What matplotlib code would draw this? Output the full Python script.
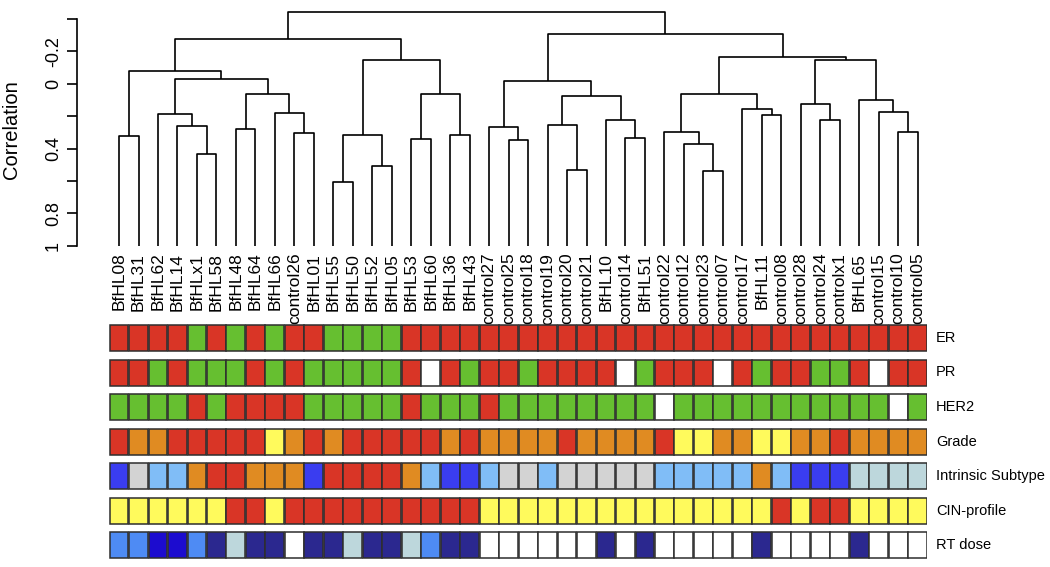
import matplotlib
matplotlib.use("Agg")
import matplotlib.pyplot as plt
from matplotlib.patches import Rectangle

plt.rcParams['font.family'] = ['Liberation Sans', 'DejaVu Sans']

# leaf order of the dendrogram
leaves = ['BfHL08', 'BfHL31', 'BfHL62', 'BfHL14', 'BfHLx1', 'BfHL58', 'BfHL48',
          'BfHL64', 'BfHL66', 'control26', 'BfHL01', 'BfHL55', 'BfHL50', 'BfHL52',
          'BfHL05', 'BfHL53', 'BfHL60', 'BfHL36', 'BfHL43', 'control27', 'control25',
          'control18', 'control19', 'control20', 'control21', 'BfHL10', 'control14',
          'BfHL51', 'control22', 'control12', 'control23', 'control07', 'control17',
          'BfHL11', 'control08', 'control28', 'control24', 'controlx1', 'BfHL65',
          'control15', 'control10', 'control05']

# hclust style merges: negative = leaf (1-based), positive = earlier merge
merge_a = [-1, -5, -4, -3, -7, -10, -9, 5, 4, 1, -12, -14, 11, -16, -18, 14, 13, 10,
           -21, -20, -24, -23, -27, -26, 22, 20, -31, -30, -29, -34, -33, 29,
           -37, -36, -41, -40, -39, 34, 32, 26, 18]
merge_b = [-2, -6, 2, 3, -8, -11, 6, 7, 8, 9, -13, -15, 12, -17, -19, 15, 16, 17,
           -22, 19, -25, 21, -28, 23, 24, 25, -32, 27, 28, -35, 30, 31,
           -38, 33, -42, 35, 36, 37, 38, 39, 40]
merge_h = [0.323, 0.434, 0.261, 0.185, 0.282, 0.304, 0.179, 0.064, -0.029, -0.076,
           0.605, 0.506, 0.319, 0.341, 0.317, 0.062, -0.146, -0.274,
           0.348, 0.269, 0.533, 0.257, 0.337, 0.226, 0.074, -0.019,
           0.539, 0.374, 0.301, 0.193, 0.154, 0.062,
           0.222, 0.125, 0.296, 0.173, 0.103, -0.144, -0.167, -0.307, -0.444]

# annotation rows
row_names = ['ER', 'PR', 'HER2', 'Grade', 'Intrinsic Subtype', 'CIN-profile', 'RT dose']
er = ("r r r r g r g r g r r g g g g r r r r r r r r r r r r r r r r r r r r r r r r r r r").split()
pr = ("r r g r g g g r g r g g g g g r w r g r r g r r r r w g r r r w r g r r g g r w r r").split()
her2 = ("g g g g r g r r r r g g g g g r g g g r g g g g g g g g w g g g g g g g g g g g w g").split()
grade = ("r o o r r r r r y o r o r r r r r o r o o o o r o o o o r y y o o y y o o r o o o o").split()
subtype = ("B gy lb lb o r r o o o B r r r r o lb B B lb gy gy lb gy gy gy gy gy lb lb lb lb lb o lb B B B pa pa pa pa").split()
cin = ("y y y y y y r r y r r r r r r r r r r y y y y y y y y y y y y y y y r y r r y y y y").split()
rt = ("m m d d m n pa n n w n n pa n n pa m n n w w w w w w n w n w w w w w n w w w w n w w w").split()
rows = [er, pr, her2, grade, subtype, cin, rt]

colors = {'r': '#d93526', 'g': '#66bf30', 'w': '#ffffff', 'o': '#e08b22', 'y': '#fffa5c',
          'B': '#3a3df0', 'gy': '#d3d3d3', 'lb': '#80bdf7', 'pa': '#bdd7dc',
          'm': '#4e8bf4', 'd': '#1c0ccf', 'n': '#2b288f'}

W, H = 1050, 567
fig = plt.figure(figsize=(10.5, 5.67), dpi=100)

x_left, x_right = 109.3, 927.4
ax = fig.add_axes([x_left / W, 1 - 245.7 / H, (x_right - x_left) / W, (245.7 - 5) / H])

# dendrogram
pos = list(range(1, len(leaves) + 1))
node_x = []
for a, b, h in zip(merge_a, merge_b, merge_h):
    xa = pos[-a - 1] if a < 0 else node_x[a - 1]
    ya = 1.0 if a < 0 else merge_h[a - 1]
    xb = pos[-b - 1] if b < 0 else node_x[b - 1]
    yb = 1.0 if b < 0 else merge_h[b - 1]
    ax.plot([xa, xa, xb, xb], [ya, h, h, yb], color='black', lw=1.2, solid_capstyle='butt')
    node_x.append((xa + xb) / 2)

ax.set_xlim(0.5, len(leaves) + 0.5)
ax.set_ylim(1.0, -0.486)
for s in ['top', 'right', 'bottom']:
    ax.spines[s].set_visible(False)
ax.spines['left'].set_position(('outward', 23))
ax.spines['left'].set_bounds(-0.4, 1.0)
ax.spines['left'].set_linewidth(1.2)
ax.set_yticks([-0.4, -0.2, 0, 0.2, 0.4, 0.6, 0.8, 1.0],
              ['', '-0.2', '0', '', '0.4', '', '0.8', '1'])
ax.tick_params(axis='y', length=7, width=1.2, labelsize=13, pad=4)
plt.setp(ax.get_yticklabels(), rotation=90, va='center')
ax.set_xticks(pos, leaves, rotation=90)
ax.tick_params(axis='x', length=0, labelsize=12.5, pad=5)
fig.text(12 / W, 1 - 130 / H, 'Correlation', rotation=90, ha='center', va='center', fontsize=14.5)

# annotation heatmap
pitch = 34.5
top = 325 - (pitch - 26) / 2
hx = fig.add_axes([x_left / W, 1 - (top + 7 * pitch) / H, (x_right - x_left) / W, 7 * pitch / H])
hx.set_xlim(0.5, len(leaves) + 0.5)
hx.set_ylim(7, 0)
hx.axis('off')
ch = 26 / pitch
for i, row in enumerate(rows):
    for j, c in enumerate(row):
        hx.add_patch(Rectangle((pos[j] - 0.485, i + (1 - ch) / 2), 0.97, ch,
                               facecolor=colors[c], edgecolor='#2e2e2e', lw=1.1))
    hx.text(len(leaves) + 0.95, i + 0.5, row_names[i], ha='left', va='center', fontsize=10.5)

fig.savefig('out.png', dpi=100)
